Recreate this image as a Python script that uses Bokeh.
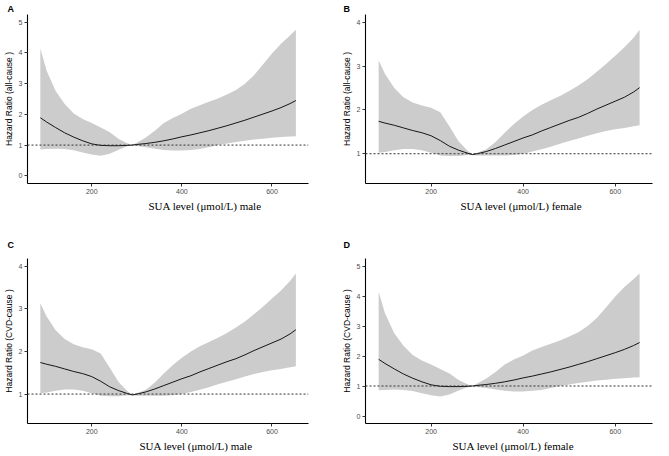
from bokeh.plotting import figure
from bokeh.models import Range1d, Span, Title, FixedTicker
from bokeh.layouts import column, row
from bokeh.embed import file_html
from bokeh.resources import INLINE

# SUA level (umol/L)
sua = [86, 100, 120, 140, 160, 180, 200, 220, 240, 260, 280, 290, 300, 320, 340,
       360, 380, 400, 420, 440, 460, 480, 500, 520, 540, 560, 580, 600, 620, 640, 653]

# Panel A: all-cause, male
a_hr = [1.89, 1.75, 1.57, 1.40, 1.26, 1.14, 1.04, 0.99, 0.98, 0.98, 0.99, 1.00, 1.02, 1.05, 1.09,
        1.14, 1.20, 1.27, 1.33, 1.40, 1.47, 1.55, 1.63, 1.72, 1.81, 1.91, 2.01, 2.11, 2.22, 2.35, 2.45]
a_lo = [0.86, 0.87, 0.88, 0.87, 0.83, 0.76, 0.69, 0.65, 0.72, 0.85, 0.97, 1.00, 0.97, 0.93, 0.88,
        0.84, 0.82, 0.82, 0.84, 0.87, 0.93, 1.00, 1.05, 1.10, 1.14, 1.18, 1.21, 1.24, 1.26, 1.28, 1.29]
a_up = [4.14, 3.42, 2.76, 2.34, 2.03, 1.85, 1.72, 1.57, 1.42, 1.20, 1.05, 1.00, 1.08, 1.25, 1.47,
        1.72, 1.88, 2.02, 2.18, 2.30, 2.41, 2.52, 2.65, 2.79, 3.00, 3.27, 3.62, 3.98, 4.30, 4.57, 4.75]

# Panel B: all-cause, female
b_hr = [1.74, 1.70, 1.65, 1.59, 1.53, 1.48, 1.41, 1.30, 1.17, 1.08, 1.01, 0.98, 1.00, 1.05, 1.12,
        1.20, 1.28, 1.36, 1.43, 1.52, 1.60, 1.68, 1.76, 1.83, 1.92, 2.02, 2.11, 2.20, 2.29, 2.41, 2.51]
b_lo = [1.02, 1.04, 1.08, 1.11, 1.11, 1.08, 1.02, 0.96, 0.95, 0.95, 0.97, 0.97, 0.96, 0.96, 0.96,
        0.96, 0.97, 1.00, 1.05, 1.10, 1.16, 1.23, 1.29, 1.35, 1.41, 1.47, 1.52, 1.56, 1.59, 1.63, 1.65]
b_up = [3.13, 2.82, 2.50, 2.29, 2.17, 2.10, 2.05, 1.95, 1.62, 1.28, 1.06, 0.99, 1.02, 1.10, 1.27,
        1.48, 1.68, 1.85, 2.00, 2.12, 2.22, 2.32, 2.43, 2.56, 2.70, 2.87, 3.05, 3.24, 3.43, 3.65, 3.83]

# Panel C: CVD-cause, male (curve as drawn in the figure)
c_hr = list(b_hr)
c_lo = list(b_lo)
c_up = list(b_up)

# Panel D: CVD-cause, female (curve as drawn in the figure)
d_hr = list(a_hr)
d_lo = list(a_lo)
d_up = list(a_up)

x_ticks = [200, 400, 600]
y_ticks_wide = [0, 1, 2, 3, 4, 5]
y_ticks_narrow = [1, 2, 3, 4]

X0, X1 = 57.5, 681


def panel(letter, ylab, xlab, hr, lo, up, yr, yticks, w, h, bl, br, bt, bb,
          xlab_off, letter_off, letter_standoff):
    p = figure(width=w, height=h, output_backend="svg", toolbar_location=None,
               x_range=Range1d(X0, X1), y_range=Range1d(yr[0], yr[1]),
               min_border_left=bl, min_border_right=br,
               min_border_top=bt, min_border_bottom=bb)
    p.outline_line_color = None
    p.xgrid.visible = False
    p.ygrid.visible = False
    p.background_fill_color = "white"
    p.border_fill_color = "white"

    p.varea(x=sua, y1=lo, y2=up, fill_color="#cccccc", fill_alpha=1.0)
    p.add_layout(Span(location=1, dimension="width", line_dash="2 2",
                      line_color="#333333", line_width=1.0))
    p.line(sua, hr, line_color="black", line_width=0.9)

    for ax in (p.xaxis[0], p.yaxis[0]):
        ax.axis_line_color = "black"
        ax.axis_line_width = 1.1
        ax.major_tick_line_color = "#333333"
        ax.major_tick_out = 3
        ax.major_tick_in = 0
        ax.minor_tick_line_color = None
        ax.major_label_text_font = "Liberation Sans"
        ax.major_label_text_font_size = "7px"
        ax.major_label_text_color = "#4d4d4d"
        ax.major_label_standoff = 2
    p.xaxis[0].ticker = FixedTicker(ticks=x_ticks)
    p.yaxis[0].ticker = FixedTicker(ticks=yticks)
    p.yaxis[0].axis_label = ylab
    p.yaxis[0].axis_label_text_font = "Liberation Sans"
    p.yaxis[0].axis_label_text_font_size = "8.5px"
    p.yaxis[0].axis_label_text_font_style = "normal"
    p.yaxis[0].axis_label_text_color = "black"
    p.yaxis[0].axis_label_standoff = 2

    p.add_layout(Title(text=xlab, align="left", offset=xlab_off,
                       text_font="Liberation Serif", text_font_size="11px",
                       text_font_style="normal", text_color="black",
                       standoff=2), "below")
    p.add_layout(Title(text=letter, align="left", offset=letter_off,
                       text_font="Liberation Sans", text_font_size="9px",
                       text_font_style="bold", text_color="black",
                       standoff=letter_standoff), "above")
    return p


pa = panel("A", "Hazard Ratio (all-cause )", "SUA level (\u03bcmol/L) male",
           a_hr, a_lo, a_up, (-0.25, 5.25), y_ticks_wide,
           332, 228, 20, 24, 14, 45, 121, -20, 1)
pb = panel("B", "Hazard Ratio (all-cause )", "SUA level (\u03bcmol/L)  female",
           b_hr, b_lo, b_up, (0.32, 4.18), y_ticks_narrow,
           321, 228, 33, 1, 14, 45, 95, -22, 1)
pc = panel("C", "Hazard Ratio (CVD-cause )", "SUA level (\u03bcmol/L) male",
           c_hr, c_lo, c_up, (0.31, 4.18), y_ticks_narrow,
           332, 224, 20, 24, 27, 28, 112, -20, 18)
pd_ = panel("D", "Hazard Ratio (CVD-cause )", "SUA level (\u03bcmol/L)  female",
            d_hr, d_lo, d_up, (-0.25, 5.25), y_ticks_wide,
            321, 224, 33, 1, 27, 28, 87, -22, 18)

layout = column(row(pa, pb), row(pc, pd_))
open("out.html", "w").write(file_html(layout, INLINE))
